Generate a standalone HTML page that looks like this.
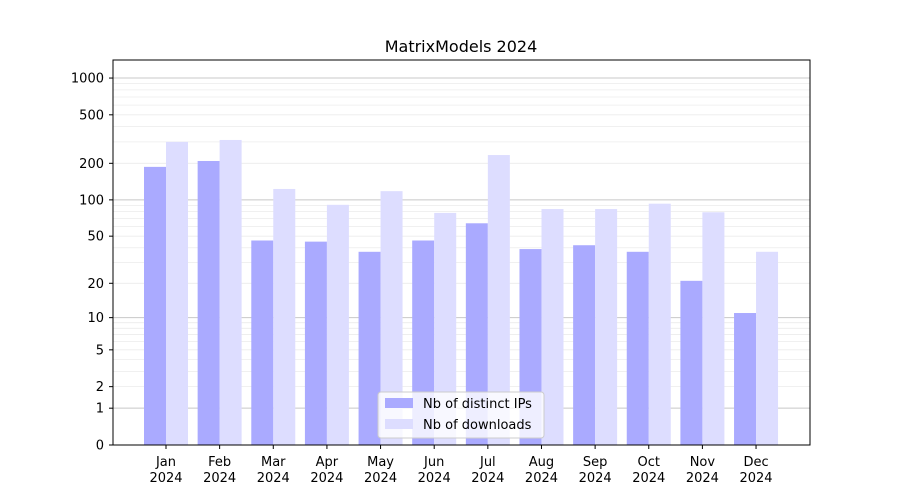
<!DOCTYPE html>
<html><head><meta charset="utf-8"><style>body{margin:0;background:#fff}svg{display:block}text{font-family:"DejaVu Sans","Liberation Sans",sans-serif;font-size:13px;fill:#000}</style></head><body>
<svg width="900" height="500" xmlns="http://www.w3.org/2000/svg">
<g id="grid"></g><g id="bars"></g>
<rect x="113" y="60" width="697" height="385" fill="none" stroke="#000" stroke-width="1"/>
<text x="461" y="52" text-anchor="middle" style="font-size:16px">MatrixModels 2024</text>
<g id="yt"></g><g id="xt"></g>
<g>
<rect x="378" y="392" width="166" height="46" rx="3" fill="#fff" fill-opacity="0.8" stroke="#ccc"/>
<rect x="385" y="398" width="28" height="10" fill="#aaaaff"/>
<text x="423" y="408">Nb of distinct IPs</text>
<rect x="385" y="419" width="28" height="10" fill="#ddddff"/>
<text x="423" y="429">Nb of downloads</text>
</g>
</svg>
<script>
const Y=v=>445-122.3*Math.log10(v+1);
const ns="http://www.w3.org/2000/svg";
function el(p,t,a,txt){const e=document.createElementNS(ns,t);for(const k in a)e.setAttribute(k,a[k]);if(txt!==undefined)e.textContent=txt;document.getElementById(p).appendChild(e);return e;}
[1,10,100,1000].forEach(d=>{for(let i=1;i<10;i++){const v=d*i;if(v>1400)continue;const y=Y(v);el("grid","line",{x1:113,x2:810,y1:y,y2:y,stroke:i==1?"#c8c8c8":"#ececec","stroke-width":i==1?1:0.8});}});
[0,1,2,5,10,20,50,100,200,500,1000].forEach(v=>{const y=Y(v);el("yt","line",{x1:109,x2:113,y1:y,y2:y,stroke:"#000"});el("yt","text",{x:104,y:y+4.5,"text-anchor":"end"},String(v));});
const m=["Jan","Feb","Mar","Apr","May","Jun","Jul","Aug","Sep","Oct","Nov","Dec"];
const ip=[187,209,46,45,37,46,64,39,42,37,21,11];
const dl=[300,311,123,91,118,78,234,84,84,93,79,37];
m.forEach((n,i)=>{const c=166+i*53.64;
el("bars","rect",{x:c-22,y:Y(ip[i]),width:22,height:445-Y(ip[i]),fill:"#aaaaff"});
el("bars","rect",{x:c,y:Y(dl[i]),width:22,height:445-Y(dl[i]),fill:"#ddddff"});
el("xt","line",{x1:c,x2:c,y1:445,y2:449,stroke:"#000"});
el("xt","text",{x:c,y:466,"text-anchor":"middle"},n);
el("xt","text",{x:c,y:482,"text-anchor":"middle"},"2024");});
</script>
</body></html>
